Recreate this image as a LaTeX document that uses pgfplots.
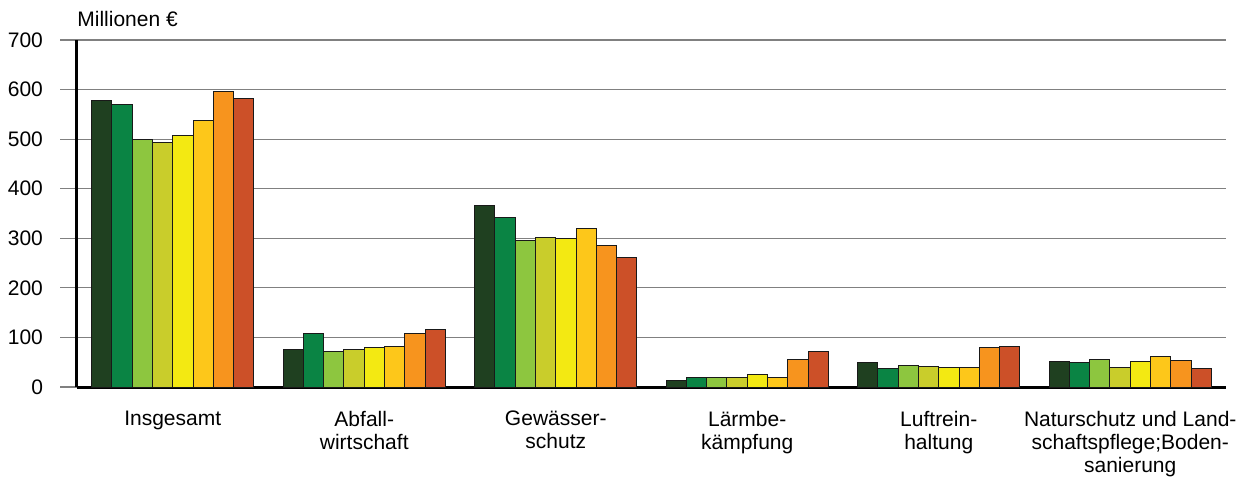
\documentclass[border=0pt]{standalone}
\usepackage{fontspec}
\setmainfont{Liberation Sans}
\usepackage{pgfplots}
\pgfplotsset{compat=1.18}
\definecolor{c1}{RGB}{31,64,32}
\definecolor{c2}{RGB}{10,132,68}
\definecolor{c3}{RGB}{141,198,63}
\definecolor{c4}{RGB}{201,205,43}
\definecolor{c5}{RGB}{243,233,18}
\definecolor{c6}{RGB}{253,199,26}
\definecolor{c7}{RGB}{247,148,30}
\definecolor{c8}{RGB}{204,80,40}
\begin{document}
\begin{tikzpicture}
\begin{axis}[
  scale only axis,
  width=574.5pt, height=173.5pt,
  xmin=-0.5, xmax=5.5, ymin=0, ymax=700,
  ybar=0pt, bar width=10.15pt,
  axis x line*=bottom, axis y line*=left,
  axis line style={line width=1.5pt, black, -},
  ytick={0,100,...,700},
  ymajorgrids, grid style={gray, line width=0.6pt},
  tick align=outside, major tick length=8.5pt,
  ytick style={gray, line width=0.6pt},
  xtick=data, xtick style={draw=none},
  xticklabels={Insgesamt, Abfall-\\wirtschaft, Gewässer-\\schutz, Lärmbe-\\kämpfung, Luftrein-\\haltung, Naturschutz und Land-\\schaftspflege;Boden-\\sanierung},
  xticklabel style={align=center, font=\fontsize{10.5}{11.6}\selectfont, yshift=0pt},
  yticklabel style={font=\fontsize{10.5}{12}\selectfont, xshift=-5pt},
  /pgf/number format/assume math mode=true,
  clip=false,
  every axis plot/.append style={draw=black!90, line width=0.5pt},
]
\addplot[fill=c1] coordinates {(0,578) (1,76) (2,366) (3,14) (4,50) (5,52)};
\addplot[fill=c2] coordinates {(0,569) (1,107) (2,342) (3,20) (4,37) (5,49)};
\addplot[fill=c3] coordinates {(0,500) (1,71) (2,295) (3,19) (4,44) (5,56)};
\addplot[fill=c4] coordinates {(0,493) (1,76) (2,301) (3,20) (4,41) (5,40)};
\addplot[fill=c5] coordinates {(0,508) (1,80) (2,299) (3,26) (4,40) (5,51)};
\addplot[fill=c6] coordinates {(0,538) (1,82) (2,319) (3,19) (4,40) (5,62)};
\addplot[fill=c7] coordinates {(0,597) (1,107) (2,286) (3,55) (4,79) (5,53)};
\addplot[fill=c8] coordinates {(0,583) (1,116) (2,261) (3,72) (4,81) (5,38)};
\coordinate (O) at (rel axis cs:0,0);
\coordinate (T) at (rel axis cs:0,1);
\end{axis}
\node[anchor=base west, inner sep=0pt, font=\fontsize{10.5}{12}\selectfont] at ([yshift=7pt]T) {Millionen €};
\path ([shift={(-38.5pt,-46pt)}]O) rectangle ([shift={(588.5pt,193.5pt)}]O);
\end{tikzpicture}
\end{document}
